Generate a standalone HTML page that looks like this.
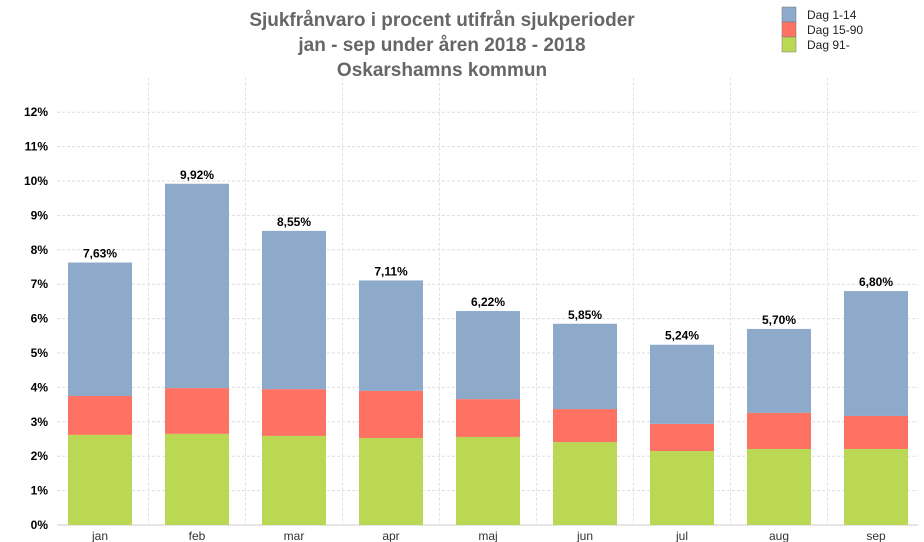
<!DOCTYPE html>
<html><head><meta charset="utf-8"><style>
body{margin:0;background:#fff;font-family:"Liberation Sans",sans-serif}
svg{display:block}
</style></head><body>
<svg id="chart" width="924" height="542">
<g font-weight="bold" font-size="19" fill="#666" text-anchor="middle">
<text x="442" y="26">Sjukfrånvaro i procent utifrån sjukperioder</text>
<text x="442" y="51">jan - sep under åren  2018 - 2018</text>
<text x="442" y="76">Oskarshamns kommun</text>
</g>
<g font-size="12" fill="#222">
<rect x="782" y="7" width="14" height="15" fill="#8eaacb" stroke="#777" stroke-width="0.5"/>
<text x="807" y="19">Dag 1-14</text>
<rect x="782" y="22" width="14" height="15" fill="#fd7262" stroke="#777" stroke-width="0.5"/>
<text x="807" y="34">Dag 15-90</text>
<rect x="782" y="37" width="14" height="15" fill="#bad853" stroke="#777" stroke-width="0.5"/>
<text x="807" y="49">Dag 91-</text>
</g>
<g id="grid"></g><g id="bars"></g><g id="labels"></g>
</svg>
<script>
const categories=["jan","feb","mar","apr","maj","jun","jul","aug","sep"];
const dag91=[2.62,2.65,2.59,2.53,2.56,2.41,2.15,2.21,2.21];
const dag1590=[1.13,1.33,1.36,1.37,1.10,0.96,0.79,1.05,0.96];
const totals=[7.63,9.92,8.55,7.11,6.22,5.85,5.24,5.70,6.80];
const totalLabels=["7,63%","9,92%","8,55%","7,11%","6,22%","5,85%","5,24%","5,70%","6,80%"];
const yTicks=[0,1,2,3,4,5,6,7,8,9,10,11,12];
const NS="http://www.w3.org/2000/svg";
const y0=525,pxPer=34.4,x0=100,step=97,bw=64;
const yS=v=>y0-v*pxPer, xS=i=>x0+i*step;
function mk(t,a,p){const e=document.createElementNS(NS,t);for(const k in a)e.setAttribute(k,a[k]);p.appendChild(e);return e;}
const grid=document.getElementById('grid'),bars=document.getElementById('bars'),labels=document.getElementById('labels');
yTicks.forEach(v=>{
 const l=mk('line',{x1:57,x2:918,y1:yS(v),y2:yS(v),stroke:v?'#ddd':'#ccc','stroke-dasharray':v?'3,2':''},grid);
 
 
 const t=mk('text',{x:48,y:yS(v)+4,'text-anchor':'end','font-size':12,'font-weight':'bold',fill:'#000'},grid);
 t.textContent=v+'%';
 
 
});
categories.forEach((c,i)=>{
 const l=mk('line',{x1:xS(i)+step/2,x2:xS(i)+step/2,y1:yS(13),y2:y0,stroke:'#e2e2e2','stroke-dasharray':'3,2'},grid);
 
 
 const x=xS(i)-bw/2;
 const g=dag91[i],r=dag1590[i],t=totals[i];
 const segs=[[0,g,'#bad853','bar-dag91'],[g,g+r,'#fd7262','bar-dag15-90'],[g+r,t,'#8eaacb','bar-dag1-14']];
 segs.forEach(s=>{
  const b=mk('rect',{x:x,y:yS(s[1]),width:bw,height:yS(s[0])-yS(s[1]),fill:s[2]},bars);
  
  
 });
 const vl=mk('text',{x:xS(i),y:yS(t)-5,'text-anchor':'middle','font-size':12,'font-weight':'bold',fill:'#000'},labels);
 vl.textContent=totalLabels[i];
 
 
 const xl=mk('text',{x:xS(i),y:540,'text-anchor':'middle','font-size':12,fill:'#333'},labels);
 xl.textContent=c;
 
 
});
</script>
</body></html>
